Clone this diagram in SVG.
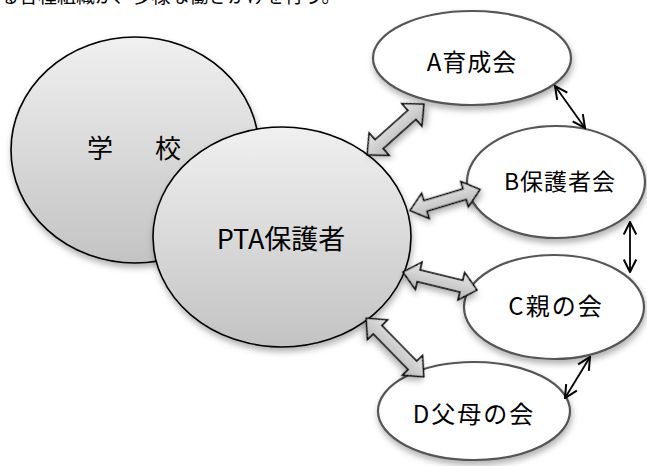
<svg xmlns="http://www.w3.org/2000/svg" width="647" height="466" viewBox="0 0 647 466">
<defs>
<linearGradient id="bigFill" x1="0" y1="0" x2="0" y2="1">
<stop offset="0" stop-color="#f0f0f0"/>
<stop offset="1" stop-color="#c3c3c3"/>
</linearGradient>
<linearGradient id="arrFill" x1="0" y1="0" x2="0" y2="1">
<stop offset="0" stop-color="#e6e6e6"/>
<stop offset="1" stop-color="#b8b8b8"/>
</linearGradient>
<filter id="shadow" x="-20%" y="-20%" width="140%" height="150%">
<feDropShadow dx="1" dy="4" stdDeviation="3" flood-color="#000" flood-opacity="0.3"/>
</filter>
<marker id="vh" viewBox="0 0 12 12" refX="11" refY="6" markerWidth="15" markerHeight="15" markerUnits="userSpaceOnUse" orient="auto-start-reverse">
<path d="M1,1 L11,6 L1,11" fill="none" stroke="#000" stroke-width="1.6"/>
</marker>
<clipPath id="topclip"><rect x="0" y="0" width="647" height="9"/></clipPath>
</defs>
<style>
.big{fill:url(#bigFill);stroke:#000;stroke-width:1.6;filter:url(#shadow)}
.small{fill:#fff;stroke:#555;stroke-width:2.2;filter:url(#shadow)}
.lbl{font-family:"Noto Sans CJK JP","Noto Sans",sans-serif;fill:#000;text-anchor:middle}
.blk{fill:url(#arrFill);stroke:#000;stroke-width:1.6;stroke-linejoin:miter;filter:url(#shadow)}
.thin{stroke:#000;stroke-width:1.8;fill:none;marker-start:url(#vh);marker-end:url(#vh)}
</style>
<rect width="647" height="466" fill="#fff"/>
<g clip-path="url(#topclip)">
<text x="0" y="3" font-family="Noto Sans CJK JP, sans-serif" font-size="19" fill="#000">る各種組織が、多様な働きかけを行う。</text>
</g>
<g id="school">
<ellipse class="big" cx="135" cy="150" rx="124" ry="113"/>
<text class="lbl" x="100" y="158" font-size="26">学</text>
<text class="lbl" x="168" y="158" font-size="26">校</text>
</g>
<g id="pta">
<ellipse class="big" cx="282" cy="237" rx="129" ry="110"/>
<text class="lbl" x="281" y="249" font-size="27">PTA保護者</text>
</g>
<g id="a">
<ellipse class="small" cx="472" cy="58" rx="99" ry="47"/>
<text class="lbl" x="472" y="71" font-size="24" letter-spacing="1">A育成会</text>
</g>
<g id="b">
<ellipse class="small" cx="556" cy="182" rx="89" ry="56"/>
<text class="lbl" x="560" y="190" font-size="23" letter-spacing="1">B保護者会</text>
</g>
<g id="c">
<ellipse class="small" cx="554" cy="307" rx="90" ry="52"/>
<text class="lbl" x="556" y="315" font-size="24" letter-spacing="2">C親の会</text>
</g>
<g id="d">
<ellipse class="small" cx="474" cy="411" rx="96" ry="49"/>
<text class="lbl" x="474" y="423" font-size="24" letter-spacing="2">D父母の会</text>
</g>
<g id="connectors">
<path class="blk" transform="translate(395.5,129.5) rotate(-41.8)" d="M-38,0 L-22,-15 L-22,-6 L22,-6 L22,-15 L38,0 L22,15 L22,6 L-22,6 L-22,15 Z"/>
<path class="blk" transform="translate(445,200) rotate(-16.7)" d="M-36.5,0 L-20.5,-13 L-20.5,-5.5 L20.5,-5.5 L20.5,-13 L36.5,0 L20.5,13 L20.5,5.5 L-20.5,5.5 L-20.5,13 Z"/>
<path class="blk" transform="translate(440,281) rotate(13.7)" d="M-38,0 L-22,-14 L-22,-6 L22,-6 L22,-14 L38,0 L22,14 L22,6 L-22,6 L-22,14 Z"/>
<path class="blk" transform="translate(395,347.5) rotate(45.5)" d="M-41,0 L-25,-14 L-25,-6 L25,-6 L25,-14 L41,0 L25,14 L25,6 L-25,6 L-25,14 Z"/>
<line class="thin" x1="555" y1="86" x2="585" y2="128"/>
<line class="thin" x1="630" y1="222" x2="630" y2="272"/>
<line class="thin" x1="590" y1="357" x2="565" y2="398"/>
</g>
</svg>
